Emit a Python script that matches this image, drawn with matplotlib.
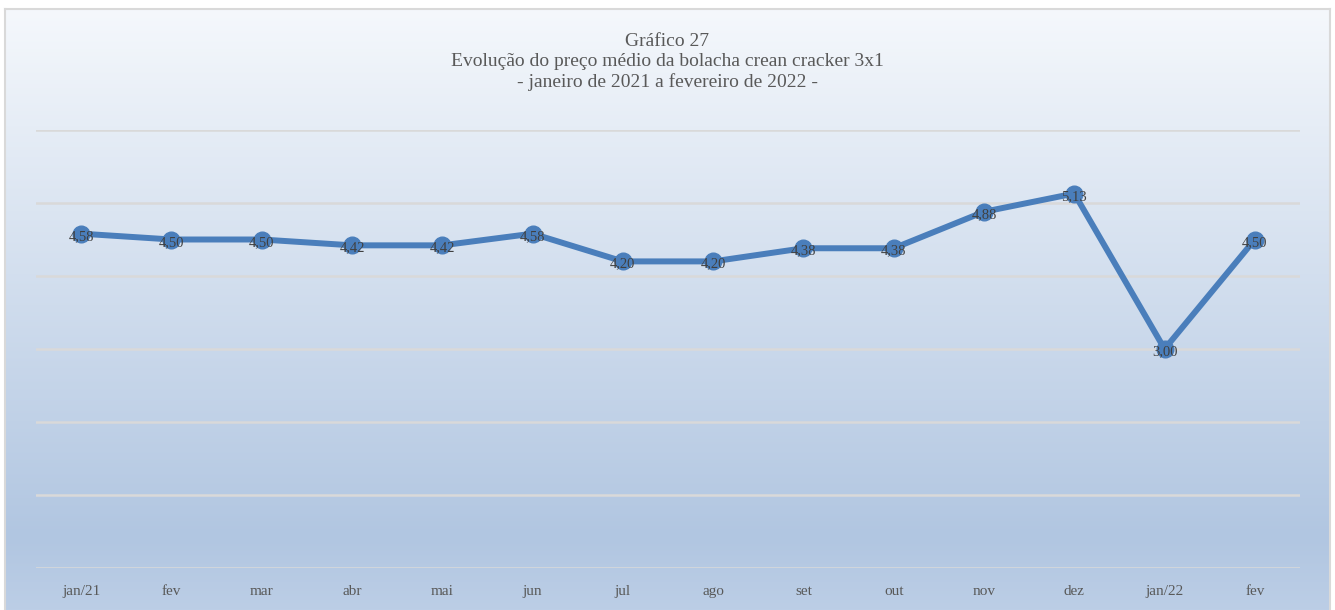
import numpy as np
import matplotlib.pyplot as plt
from matplotlib.colors import LinearSegmentedColormap

# %% data
meses = ["jan/21", "fev", "mar", "abr", "mai", "jun", "jul", "ago",
         "set", "out", "nov", "dez", "jan/22", "fev"]
precos = [4.58, 4.50, 4.50, 4.42, 4.42, 4.58, 4.20, 4.20,
          4.38, 4.38, 4.88, 5.13, 3.00, 4.50]

titulo = "Gráfico 27\nEvolução do preço médio da bolacha crean cracker 3x1\n- janeiro de 2021 a fevereiro de 2022 -"

# %% figure
W, H = 1335, 610
fig = plt.figure(figsize=(W / 100, H / 100), dpi=100, facecolor="white")
plt.rcParams["font.family"] = ["Liberation Serif", "DejaVu Serif"]

# gradient background panel
bg = fig.add_axes([5 / W, 0, 1325 / W, (H - 9) / H])
cmap = LinearSegmentedColormap.from_list(
    "fundo", [(0, "#bccee6"), (0.12, "#b1c6e1"), (1, "#f5f8fc")])
grad = np.linspace(0, 1, 256).reshape(-1, 1)
bg.imshow(grad, aspect="auto", cmap=cmap, origin="lower", extent=[0, 1, 0, 1])
bg.set_xticks([])
bg.set_yticks([])
for s in bg.spines.values():
    s.set_color("#d9d9d9")
    s.set_linewidth(1.5)
bg.spines["bottom"].set_visible(False)

ax = fig.add_axes([36 / W, (H - 568) / H, (1300 - 36) / W, (568 - 130) / H])
ax.set_facecolor("none")
x = np.arange(len(meses))
ax.plot(x, precos, color="#4a7ebb", lw=4.3, marker="o", ms=12,
        solid_capstyle="round", zorder=3)
for xi, v in zip(x, precos):
    ax.annotate(f"{v:.2f}".replace(".", ","), (xi, v), xytext=(0, -2),
                textcoords="offset points", ha="center", va="center",
                fontsize=10.5, color="#404040", zorder=4)

ax.set_xlim(-0.5, len(meses) - 0.5)
ax.set_ylim(0, 6)
ax.set_yticks(np.arange(0, 7, 1))
ax.set_yticklabels([])
ax.grid(axis="y", color="#d9d9d9", lw=1.8)
ax.set_axisbelow(True)
ax.tick_params(length=0, pad=12)
ax.set_xticks(x)
ax.set_xticklabels(meses, fontsize=11, color="#595959")
for s in ax.spines.values():
    s.set_visible(False)

fig.text(0.5, (H - 62) / H, titulo, ha="center", va="center",
         fontsize=14, color="#595959", linespacing=1.2)

fig.savefig("out.png", dpi=100, facecolor="white")
